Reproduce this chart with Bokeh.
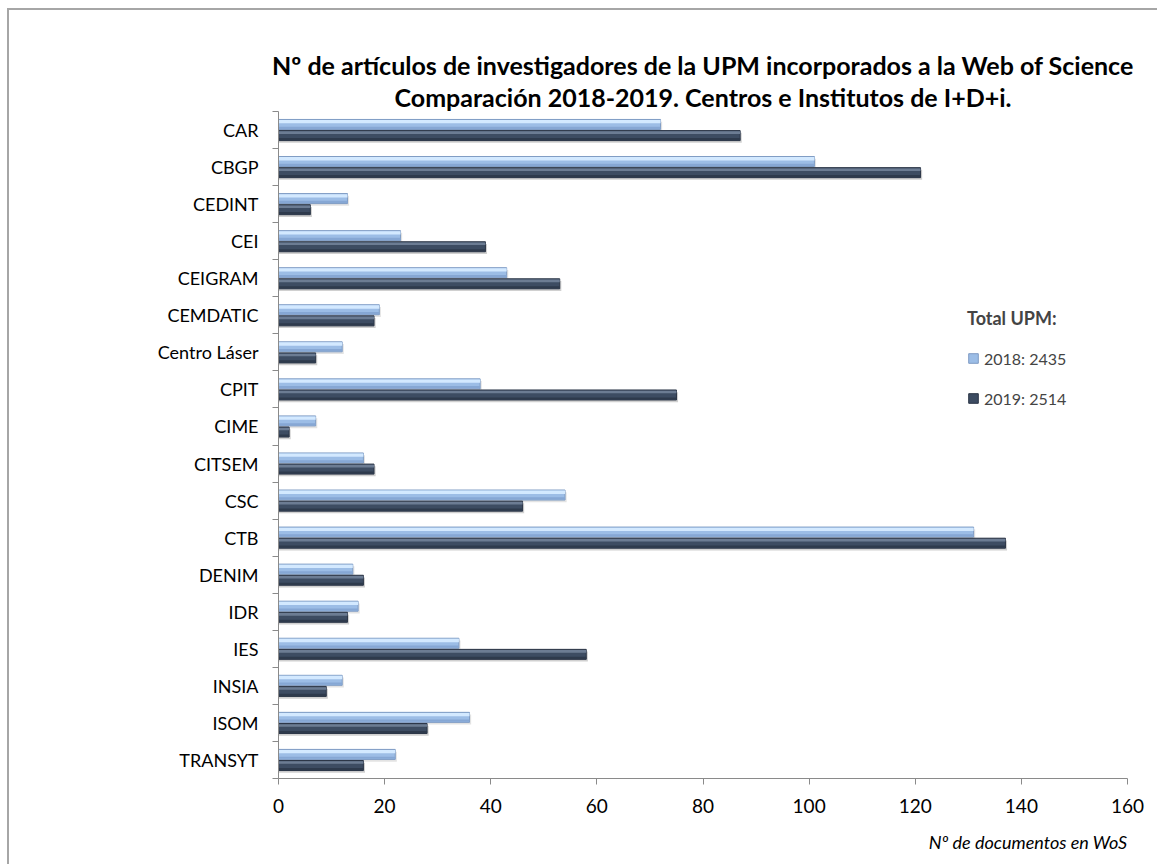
from bokeh.plotting import figure
from bokeh.models import (ColumnDataSource, Range1d, FixedTicker, Legend,
                          LegendItem, Title)
from bokeh.transform import dodge
from bokeh.embed import file_html
from bokeh.resources import INLINE

# ---------------- data ----------------
categories = ["CAR", "CBGP", "CEDINT", "CEI", "CEIGRAM", "CEMDATIC",
              "Centro Láser", "CPIT", "CIME", "CITSEM", "CSC", "CTB",
              "DENIM", "IDR", "IES", "INSIA", "ISOM", "TRANSYT"]
v2018 = [72, 101, 13, 23, 43, 19, 12, 38, 7, 16, 54, 131, 14, 15, 34, 12, 36, 22]
v2019 = [87, 121, 6, 39, 53, 18, 7, 75, 2, 18, 46, 137, 16, 13, 58, 9, 28, 16]
series_labels = ["2018: 2435", "2019: 2514"]
x_ticks = [0, 20, 40, 60, 80, 100, 120, 140, 160]

title_line1 = "Nº de artículos de investigadores de la UPM incorporados a la Web of Science"
title_line2 = "Comparación 2018-2019. Centros e Institutos de I+D+i."
x_title = "Nº de documentos en WoS"
legend_title = "Total UPM:"

FONT = "Lato"
W, H = 1150, 856

n = len(categories)
src = ColumnDataSource(dict(
    y=list(range(n)),
    v18=v2018,
    v19=v2019,
    v18s=[v + 0.3 for v in v2018],
    v19s=[v + 0.3 for v in v2019],
))

p = figure(width=W, height=H, output_backend="svg", toolbar_location=None,
           x_range=Range1d(0, 160), y_range=Range1d(n - 0.5, -0.5),
           min_border_left=269, min_border_right=32,
           min_border_top=101, min_border_bottom=88)
p.styles = {"margin-left": "7px", "margin-top": "8px",
            "border-left": "2px solid #a6a6a6", "border-top": "2px solid #a6a6a6"}
p.outline_line_color = None
p.xgrid.visible = False
p.ygrid.visible = False
p.background_fill_color = "white"
p.border_fill_color = "white"

BH = 0.27
# shadows
p.hbar(y=dodge("y", -0.15 + 0.06, range=p.y_range), right="v18s", height=BH, left=0,
       source=src, fill_color="#c8c8c8", fill_alpha=0.5, line_color=None)
p.hbar(y=dodge("y", 0.15 + 0.06, range=p.y_range), right="v19s", height=BH, left=0,
       source=src, fill_color="#b0b0b0", fill_alpha=0.6, line_color=None)

# base bars
r18 = p.hbar(y=dodge("y", -0.15, range=p.y_range), right="v18", height=BH, left=0,
             source=src, fill_color="#9cbde6", line_color="#7f9cc4", line_width=1)
r19 = p.hbar(y=dodge("y", 0.15, range=p.y_range), right="v19", height=BH, left=0,
             source=src, fill_color="#3d4c62", line_color="#2b3546", line_width=1)

# bevel highlights
p.hbar(y=dodge("y", -0.15 - 0.075, range=p.y_range), right="v18", height=0.09, left=0,
       source=src, fill_color="#d3e9ff", line_color=None)
p.hbar(y=dodge("y", -0.15 + 0.09, range=p.y_range), right="v18", height=0.06, left=0,
       source=src, fill_color="#86a7d4", line_color=None)
p.hbar(y=dodge("y", 0.15 - 0.08, range=p.y_range), right="v19", height=0.07, left=0,
       source=src, fill_color="#6c7c93", line_color=None)
p.hbar(y=dodge("y", 0.15 + 0.095, range=p.y_range), right="v19", height=0.06, left=0,
       source=src, fill_color="#2e3a4c", line_color=None)

AX = "#8a8a8a"
# x axis
xa = p.xaxis[0]
xa.ticker = FixedTicker(ticks=x_ticks)
xa.axis_line_color = AX
xa.major_tick_line_color = AX
xa.major_tick_out = 6
xa.major_tick_in = 0
xa.minor_tick_line_color = None
xa.major_label_text_font = FONT
xa.major_label_text_font_size = "19px"
xa.major_label_text_color = "black"
xa.major_label_standoff = 14

# y axis: labels at centers, tick marks between categories
ya = p.yaxis[0]
ya.ticker = FixedTicker(ticks=list(range(n)),
                        minor_ticks=[i - 0.5 for i in range(n + 1)])
ya.major_label_overrides = {i: c for i, c in enumerate(categories)}
ya.axis_line_color = AX
ya.major_tick_line_color = None
ya.major_tick_out = 0
ya.major_tick_in = 0
ya.minor_tick_line_color = AX
ya.minor_tick_out = 6
ya.minor_tick_in = 0
ya.major_label_text_font = FONT
ya.major_label_text_font_size = "18px"
ya.major_label_text_color = "black"
ya.major_label_standoff = 14

# titles (first added is closest to the plot)
p.add_layout(Title(text=title_line2, align="center", text_font=FONT,
                   text_font_size="25px", text_font_style="bold",
                   text_color="black", standoff=0), "above")
p.add_layout(Title(text=title_line1, align="center", text_font=FONT,
                   text_font_size="25px", text_font_style="bold",
                   text_color="black", standoff=0), "above")
p.add_layout(Title(text=x_title, align="right", text_font=FONT,
                   text_font_size="18px", text_font_style="italic",
                   text_color="black", standoff=26), "below")

legend = Legend(items=[LegendItem(label=series_labels[0], renderers=[r18]),
                       LegendItem(label=series_labels[1], renderers=[r19])],
                location=(689, 370), title=legend_title,
                title_text_font=FONT, title_text_font_size="18px",
                title_text_font_style="bold", title_standoff=19,
                label_text_font=FONT, label_text_font_size="16px",
                label_height=20, glyph_width=12, glyph_height=12,
                label_standoff=5, spacing=20, padding=0, margin=0,
                border_line_color=None, background_fill_alpha=0)
p.add_layout(legend, "center")

open("out.html", "w").write(file_html(p, INLINE))
